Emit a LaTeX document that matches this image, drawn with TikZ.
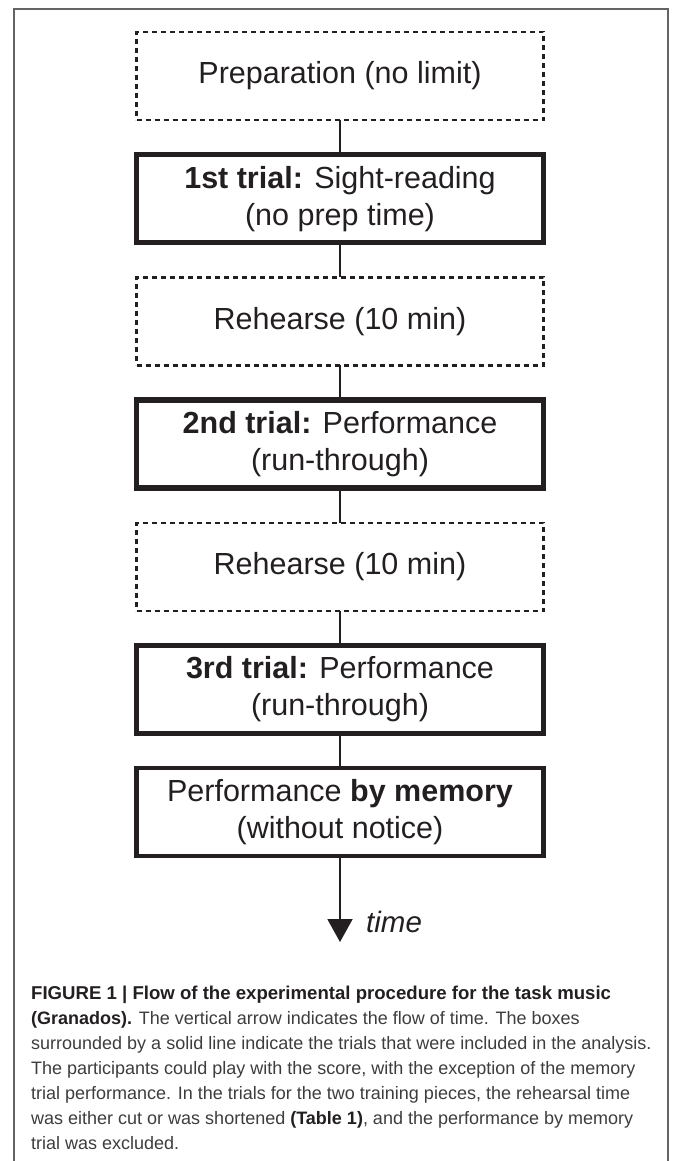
\documentclass[tikz,border=0pt]{standalone}
\usepackage{fontspec}
\setmainfont{Liberation Sans}
\usetikzlibrary{positioning,arrows.meta}

\definecolor{ink}{RGB}{35,31,32}
\definecolor{capgray}{RGB}{62,60,62}
\definecolor{framegray}{RGB}{100,100,100}

\tikzset{
	box/.style={rectangle, draw=ink, text=ink, minimum width=407pt, minimum height=88pt,
		align=center, inner sep=0pt, outer sep=0pt, font=\fontsize{30.5}{37}\selectfont},
	dashbox/.style={box, line width=2.5pt, dash pattern=on 5pt off 4pt},
	trialbox/.style={box, line width=5.5pt},
	memorybox/.style={box, line width=4.5pt},
	link/.style={draw=ink, line width=2pt},
	caption/.style={anchor=north west, align=left, inner sep=0pt, text=capgray,
		font=\fontsize{18}{25}\selectfont}
}

\begin{document}
\begin{tikzpicture}[x=1pt,y=1pt,node distance=34.7pt]
	\useasboundingbox (0,0) rectangle (673,-1161);
	\draw[framegray, line width=1.5pt] (14,-1161) -- (14,-9) -- (668,-9) -- (668,-1161);
	\node[dashbox](prep) at (340,-76){Preparation (no limit)};
	\node[trialbox](first)[below = of prep]{\textbf{1st trial:} Sight-reading\\(no prep time)};
	\node[dashbox](rehA)[below = of first]{Rehearse (10 min)};
	\node[trialbox](second)[below = of rehA]{\textbf{2nd trial:} Performance\\(run-through)};
	\node[dashbox](rehB)[below = of second]{Rehearse (10 min)};
	\node[trialbox](third)[below = of rehB]{\textbf{3rd trial:} Performance\\(run-through)};
	\node[memorybox](memory)[below = of third]{Performance \textbf{by memory}\\(without notice)};
	\coordinate (tip) at (340,-942);
	\draw[link](prep) -- (first);
	\draw[link](first) -- (rehA);
	\draw[link](rehA) -- (second);
	\draw[link](second) -- (rehB);
	\draw[link](rehB) -- (third);
	\draw[link](third) -- (memory);
	\draw[link,-{Triangle[width=25pt,length=23pt]}](memory) -- (tip);
	\node[anchor=base west, inner sep=0pt, text=ink, font=\fontsize{29.5}{35}\selectfont\itshape](timelabel) at (366,-932){time};
	\node[caption](legend) at (31,-986){%
		\textcolor{ink}{\fontsize{18.6}{25}\selectfont\textbf{FIGURE 1 | Flow of the experimental procedure for the task music}}\\
		\textcolor{ink}{\textbf{(Granados).}} The vertical arrow indicates the flow of time. The boxes\\
		surrounded by a solid line indicate the trials that were included in the analysis.\\
		The participants could play with the score, with the exception of the memory\\
		trial performance. In the trials for the two training pieces, the rehearsal time\\
		was either cut or was shortened \textcolor{ink}{\textbf{(Table 1)}}, and the performance by memory\\
		trial was excluded.};
\end{tikzpicture}
\end{document}
